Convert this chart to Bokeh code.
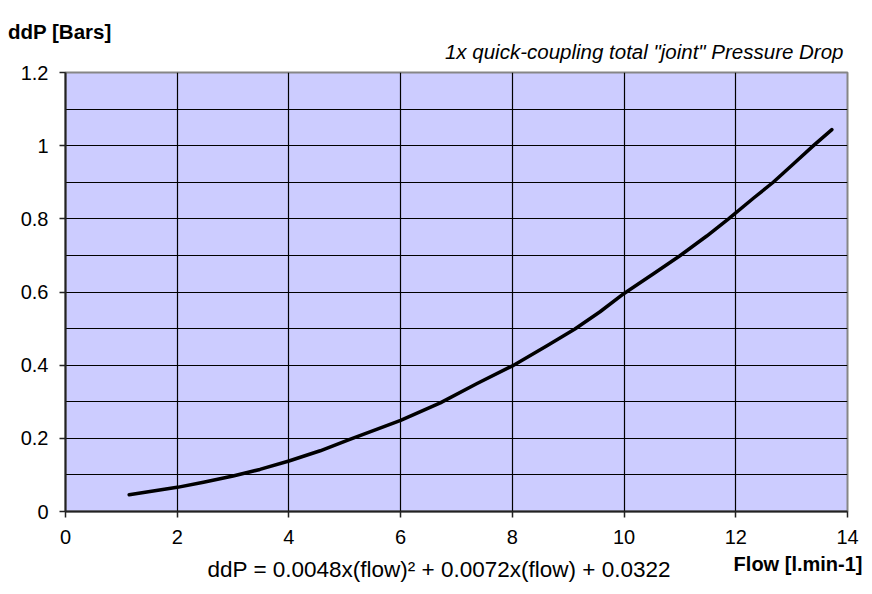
from bokeh.plotting import figure
from bokeh.models import (Range1d, Title, FixedTicker,
                          CustomJSTickFormatter, ColumnDataSource)
from bokeh.embed import file_html
from bokeh.resources import INLINE

# ---- data ----
flow = [1.14, 2.0, 2.47, 3.0, 3.48, 4.0, 4.56, 5.09, 5.51, 6.0, 6.71, 7.36, 8.0,
        8.62, 9.12, 9.57, 10.0, 10.52, 11.0, 11.48, 11.87, 12.32, 12.67, 13.03, 13.39, 13.72]
ddp = [0.046, 0.066, 0.080, 0.097, 0.115, 0.138, 0.166, 0.197, 0.221, 0.249, 0.297, 0.349, 0.398,
       0.453, 0.499, 0.546, 0.596, 0.649, 0.699, 0.753, 0.800, 0.857, 0.900, 0.950, 1.000, 1.044]

x_ticks = [0, 2, 4, 6, 8, 10, 12, 14]
y_ticks = [0, 0.2, 0.4, 0.6, 0.8, 1.0, 1.2]
x_grid = [2, 4, 6, 8, 10, 12]
y_grid = [0.1, 0.2, 0.3, 0.4, 0.5, 0.6, 0.7, 0.8, 0.9, 1.0, 1.1]

title_text = '1x quick-coupling total "joint" Pressure Drop'
y_label = "ddP [Bars]"
x_label = "Flow [l.min-1]"
equation = "ddP = 0.0048x(flow)\u00b2 + 0.0072x(flow) + 0.0322"

W, H = 864, 586
FL, FR, FT, FB = 65, 847, 72, 511  # frame edges in canvas px

FONT = "Liberation Sans"

p = figure(width=W, height=H, output_backend="svg", toolbar_location=None,
           x_range=Range1d(0, 14), y_range=Range1d(0, 1.2),
           min_border_left=FL, min_border_right=W - FR,
           min_border_top=FT, min_border_bottom=H - FB,
           background_fill_color="#CCCCFF", border_fill_color="white")

p.outline_line_color = "#868686"
p.outline_line_width = 2

# axes
p.xaxis.ticker = FixedTicker(ticks=x_ticks)
p.yaxis.ticker = FixedTicker(ticks=y_ticks)
p.yaxis.formatter = CustomJSTickFormatter(code="return String(Math.round(tick*10)/10);")
for ax in (p.xaxis[0], p.yaxis[0]):
    ax.axis_line_color = "#222222"
    ax.axis_line_width = 2
    ax.major_tick_line_color = "#222222"
    ax.major_tick_line_width = 1.5
    ax.major_tick_out = 6
    ax.major_tick_in = 0
    ax.minor_tick_line_color = None
    ax.major_label_text_font = FONT
    ax.major_label_text_font_size = "20px"
    ax.major_label_text_color = "black"
p.xaxis.major_label_standoff = 12
p.yaxis.major_label_standoff = 11

# grids
p.xgrid.ticker = FixedTicker(ticks=x_grid)
p.ygrid.ticker = FixedTicker(ticks=y_grid)
for g in (p.xgrid[0], p.ygrid[0]):
    g.grid_line_color = "black"
    g.grid_line_width = 1.2

src = ColumnDataSource(dict(flow=flow, ddp=ddp))
p.line("flow", "ddp", source=src, line_color="black", line_width=3.5,
       line_cap="round", line_join="round")


def spacer(size):
    # blank title used only to reserve room in a side panel (size in px)
    return Title(text=" ", text_font=FONT, text_font_size="10px",
                 text_color="white", standoff=size - 12.24)


# ---- texts above the plot area ----
p.add_layout(spacer(9), "above")
p.add_layout(Title(text=title_text, text_font=FONT, text_font_size="20.5px",
                   text_font_style="italic", text_color="black", align="right",
                   vertical_align="top", offset=4, standoff=-3.8), "above")
p.title.text = y_label
p.title.text_font = FONT
p.title.text_font_size = "20.5px"
p.title.text_font_style = "bold"
p.title.text_color = "black"
p.title.align = "left"
p.title.vertical_align = "top"
p.title.offset = -57.5
p.title.standoff = -8.4

# ---- texts below the plot area ----
p.add_layout(spacer(15.5), "below")
p.add_layout(Title(text=x_label, text_font=FONT, text_font_size="20px",
                   text_font_style="bold", text_color="black", align="right",
                   vertical_align="top", offset=-15, standoff=-19.2), "below")
p.add_layout(Title(text=equation, text_font=FONT, text_font_size="22.5px",
                   text_font_style="normal", text_color="black", align="left",
                   vertical_align="top", offset=142, standoff=-22), "below")

open("out.html", "w").write(file_html(p, INLINE))
